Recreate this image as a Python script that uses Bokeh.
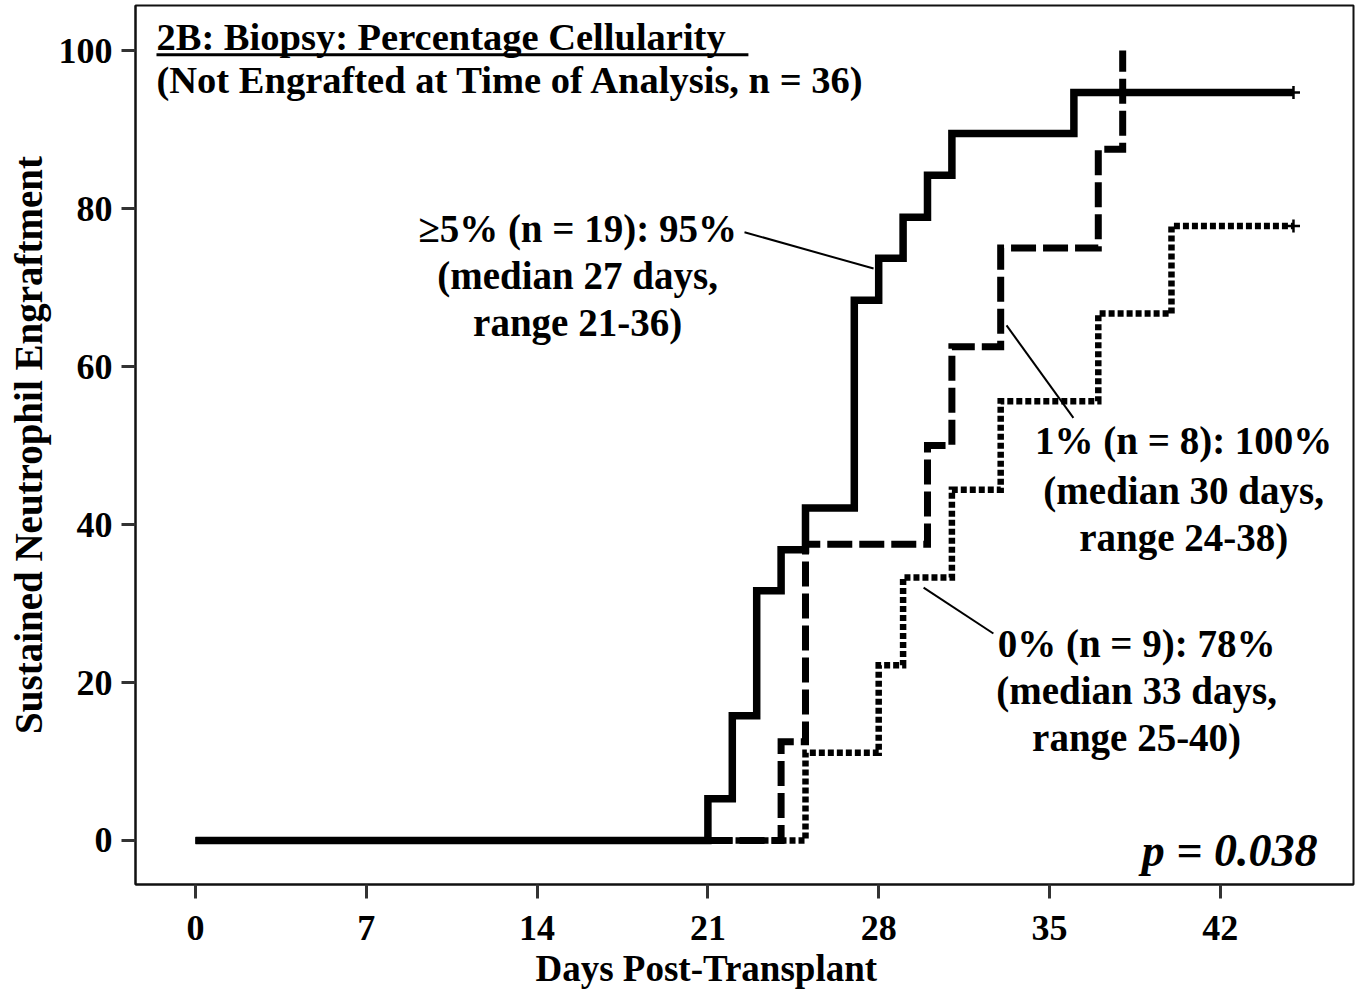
from bokeh.plotting import figure
from bokeh.models import Label, Range1d, FixedTicker, ColumnDataSource, Title
from bokeh.core.properties import value
from bokeh.embed import file_html
from bokeh.resources import INLINE

# ---- data ----
days_ge5 = [0, 21, 22, 23, 24, 25, 27, 28, 29, 30, 31, 36, 45]
pct_ge5 = [0, 5.3, 15.8, 31.6, 36.8, 42.1, 68.4, 73.7, 78.9, 84.2, 89.5, 94.7, 94.7]

days_1 = [0, 24, 25, 30, 31, 33, 37, 38]
pct_1 = [0, 12.5, 37.5, 50.0, 62.5, 75.0, 87.5, 100.0]

days_0 = [0, 25, 28, 29, 31, 33, 37, 40, 45]
pct_0 = [0, 11.1, 22.2, 33.3, 44.4, 55.6, 66.7, 77.8, 77.8]

censor_days = [45, 45]
censor_pct = [94.7, 77.8]

x_ticks = [0, 7, 14, 21, 28, 35, 42]
y_ticks = [0, 20, 40, 60, 80, 100]

title_line1 = "2B: Biopsy: Percentage Cellularity"
title_line2 = "(Not Engrafted at Time of Analysis, n = 36)"
x_label = "Days Post-Transplant"
y_label = "Sustained Neutrophil Engraftment"
p_text = "p = 0.038"

ann_text = ["\u22655% (n = 19): 95%", "(median 27 days,", "range 21-36)",
            "1% (n = 8): 100%", "(median 30 days,", "range 24-38)",
            "0% (n = 9): 78%", "(median 33 days,", "range 25-40)"]
ann_x = [15.66, 15.66, 15.66, 40.5, 40.5, 40.5, 38.57, 38.57, 38.57]
ann_y = [77.5, 71.5, 65.6, 50.6, 44.3, 38.4, 24.9, 19.0, 13.0]

lead_x0 = [22.5, 33.24, 29.84]
lead_y0 = [77.0, 65.2, 32.0]
lead_x1 = [27.79, 35.98, 32.7]
lead_y1 = [72.4, 53.5, 26.2]

FONT = "Liberation Serif"

p = figure(width=1356, height=1005, output_backend="svg", toolbar_location=None,
           x_range=Range1d(-2.46, 47.46), y_range=Range1d(-5.57, 105.7),
           min_border_left=135, min_border_right=3, min_border_top=5,
           min_border_bottom=121)
p.background_fill_color = "white"
p.border_fill_color = "white"
p.outline_line_color = "#111111"
p.outline_line_width = 2
p.xgrid.visible = False
p.ygrid.visible = False

for ax in (p.xaxis[0], p.yaxis[0]):
    ax.axis_line_color = "#111111"
    ax.axis_line_width = 2
    ax.major_tick_line_color = "#333333"
    ax.major_tick_line_width = 3
    ax.major_tick_out = 14
    ax.major_tick_in = 0
    ax.minor_tick_out = 0
    ax.minor_tick_in = 0
    ax.major_label_text_font = FONT
    ax.major_label_text_font_style = "bold"
    ax.major_label_text_font_size = "36px"
    ax.major_label_text_color = "black"

p.xaxis.ticker = FixedTicker(ticks=x_ticks)
p.yaxis.ticker = FixedTicker(ticks=y_ticks)
p.xaxis.major_label_standoff = 17
p.yaxis.major_label_standoff = 9

p.yaxis.axis_label = y_label
p.yaxis.axis_label_text_font = FONT
p.yaxis.axis_label_text_font_style = "bold"
p.yaxis.axis_label_text_font_size = "39px"
p.yaxis.axis_label_text_color = "black"
p.yaxis.axis_label_standoff = 6

# x-axis label as a title below, shifted so it is centred on the data span
p.add_layout(Title(text=x_label, align="left", offset=400, text_font=FONT,
                   text_font_style="bold", text_font_size="37px",
                   text_color="black", standoff=6), "below")

# step curves
p.step(days_0, pct_0, mode="after", line_color="black", line_width=6.5,
       line_dash="6 3", line_join="miter")
p.step(days_1, pct_1, mode="after", line_color="black", line_width=7,
       line_dash="25 7", line_join="miter")
p.step(days_ge5, pct_ge5, mode="after", line_color="black", line_width=7.5,
       line_join="miter")
p.scatter(censor_days, censor_pct, marker="cross", size=13, line_width=2.5,
          line_color="black")

# leader lines
p.segment(x0=lead_x0, y0=lead_y0, x1=lead_x1, y1=lead_y1, line_color="black",
          line_width=2)

# annotations
src = ColumnDataSource(dict(x=ann_x, y=ann_y, text=ann_text))
p.text(x="x", y="y", text="text", source=src, text_font=value(FONT),
       text_font_style="bold", text_font_size=value("39px"),
       text_align="center", text_baseline="middle", text_color="black")

# title block
p.add_layout(Label(x=-1.6, y=101.7, text=title_line1, text_font=FONT,
                   text_font_style="bold", text_font_size="38.5px",
                   text_baseline="middle", text_align="left",
                   text_color="black"))
p.segment(x0=[-1.6], y0=[99.45], x1=[22.66], y1=[99.45], line_color="black",
          line_width=3)
p.add_layout(Label(x=-1.6, y=96.27, text=title_line2, text_font=FONT,
                   text_font_style="bold", text_font_size="38.5px",
                   text_baseline="middle", text_align="left",
                   text_color="black"))

# p-value
p.add_layout(Label(x=45.98, y=-1.27, text=p_text, text_font=FONT,
                   text_font_style="bold italic", text_font_size="46px",
                   text_baseline="middle", text_align="right",
                   text_color="black"))

open("out.html", "w").write(file_html(p, INLINE))
